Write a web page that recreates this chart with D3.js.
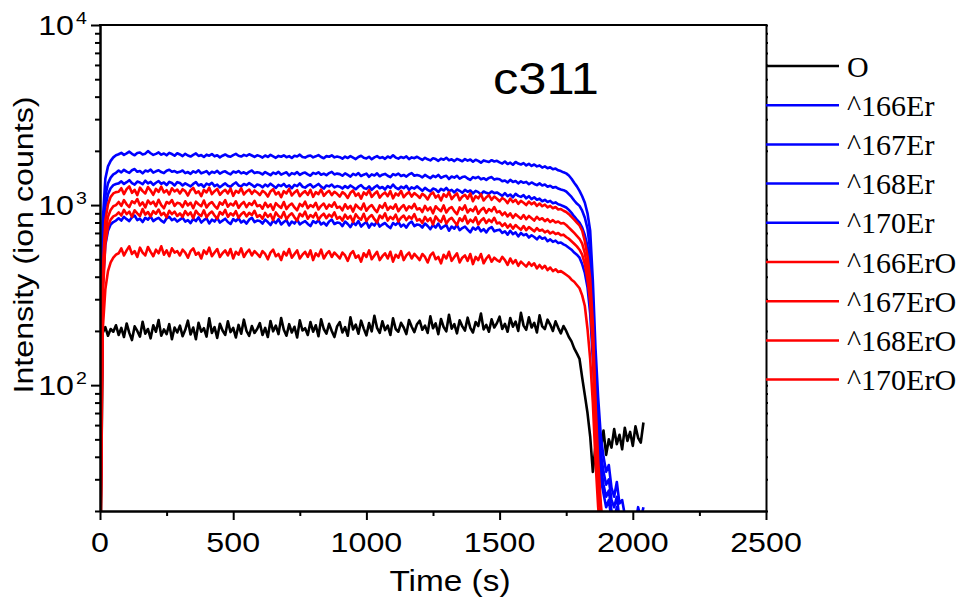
<!DOCTYPE html>
<html><head><meta charset="utf-8">
<script src="https://cdn.jsdelivr.net/npm/d3@7"></script>
<style>body{margin:0;background:#fff}svg{display:block}</style>
</head><body>
<svg id="chart" width="966" height="603"></svg>
<script>
// sample times (s)
const time = [0,10,20,30,40,50,60,70,80,90,100,110,120,130,140,150,160,170,180,190,
200,210,220,230,240,250,260,270,280,290,300,310,320,330,340,350,360,370,380,390,
400,410,420,430,440,450,460,470,480,490,500,510,520,530,540,550,560,570,580,590,
600,610,620,630,640,650,660,670,680,690,700,710,720,730,740,750,760,770,780,790,
800,810,820,830,840,850,860,870,880,890,900,910,920,930,940,950,960,970,980,990,
1000,1010,1020,1030,1040,1050,1060,1070,1080,1090,1100,1110,1120,1130,1140,1150,1160,1170,1180,1190,
1200,1210,1220,1230,1240,1250,1260,1270,1280,1290,1300,1310,1320,1330,1340,1350,1360,1370,1380,1390,
1400,1410,1420,1430,1440,1450,1460,1470,1480,1490,1500,1510,1520,1530,1540,1550,1560,1570,1580,1590,
1600,1610,1620,1630,1640,1650,1660,1670,1680,1690,1700,1710,1720,1730,1740,1750,1760,1770,1780,1790,
1800,1810,1820,1830,1840,1850,1860,1870,1880,1890,1900,1910,1920,1930,1940,1950,1960,1970,1980,1990,
2000,2010,2020,2030,2040];

const O = [5,195,210,188,205,198,215,
190,208,185,220,195,178,212,200,186,225,193,205,182,215,198,230,188,204,192,218,180,209,196,
214,187,203,228,191,209,180,222,198,207,186,235,195,210,183,219,201,190,226,197,208,184,216,193,231,200,188,213,195,205,
221,190,208,185,227,199,214,192,236,203,188,218,196,211,184,229,201,207,190,224,198,215,187,232,205,193,219,200,185,212,
224,196,210,188,238,204,217,193,228,206,189,221,199,243,208,195,226,202,214,190,235,205,198,222,209,192,230,211,197,218,
228,203,214,195,241,207,220,192,233,210,199,246,206,218,194,229,212,201,237,208,196,224,213,250,204,216,198,232,209,221,
240,205,219,198,236,211,225,200,252,214,203,238,209,222,196,244,212,205,231,217,200,226,208,194,213,200,
185,175,160,150,140,110,88,70,52,33,46,52,44,56,41,50,45,57,47,53,44,58,49,55,46,59,51,48,62];

const Er166 = [12,800,1400,1640,1760,1840,1890,
1915,1950,1900,1935,1980,1925,1890,1945,1960,1910,1930,1995,1940,1900,1925,1960,1905,1935,1890,1950,1920,1880,1940,
1910,1870,1925,1885,1860,1900,1935,1875,1895,1850,1905,1880,1920,1865,1890,1840,1880,1910,1870,1855,1895,1925,1880,1860,1900,1875,1915,1885,1850,1890,
1870,1835,1885,1850,1900,1865,1830,1875,1855,1890,1845,1870,1825,1880,1860,1905,1850,1835,1870,1885,1840,1865,1895,1850,1820,1870,1855,1890,1840,1860,
1845,1810,1860,1825,1870,1835,1800,1850,1880,1830,1815,1855,1795,1840,1870,1825,1845,1805,1860,1830,1890,1835,1810,1850,1825,1865,1800,1840,1820,1855,
1815,1780,1830,1795,1770,1820,1800,1760,1810,1785,1830,1775,1795,1755,1805,1780,1750,1800,1765,1790,1740,1785,1760,1720,1770,1750,1735,1775,1745,1760,
1725,1700,1745,1690,1720,1675,1735,1700,1680,1710,1660,1695,1650,1680,1640,1660,1615,1640,1600,1620,1580,1595,1560,1545,1520,1500,
1460,1400,1330,1270,1200,1120,1030,900,720,380,160,85,52,40,33,36,27,24,29,22,23,19,17,15,16,17,21,18,21];

const Er167 = [10,560,970,1150,1240,1290,1310,
1320,1355,1310,1340,1375,1325,1300,1350,1335,1305,1365,1320,1345,1295,1330,1360,1310,1335,1290,1345,1325,1285,1340,
1325,1285,1320,1295,1270,1310,1340,1285,1305,1260,1315,1295,1330,1275,1300,1255,1290,1320,1280,1265,1305,1335,1285,1270,1310,1290,1325,1295,1260,1300,
1290,1255,1300,1270,1315,1280,1245,1295,1275,1310,1260,1285,1240,1295,1275,1320,1265,1250,1285,1305,1255,1280,1310,1265,1235,1285,1270,1300,1255,1275,
1265,1235,1275,1245,1285,1255,1225,1265,1290,1245,1230,1270,1215,1255,1285,1240,1260,1220,1275,1245,1300,1250,1225,1265,1240,1280,1215,1255,1235,1270,
1235,1200,1245,1215,1190,1235,1220,1180,1230,1205,1245,1195,1215,1175,1220,1200,1170,1215,1185,1205,1160,1200,1180,1145,1190,1170,1155,1190,1165,1175,
1150,1125,1165,1120,1145,1105,1155,1125,1110,1135,1090,1120,1080,1105,1070,1085,1050,1070,1040,1055,1025,1035,1010,1000,985,970,
940,905,865,830,800,750,680,590,440,220,95,52,36,28,24,26,20,18,21,15,16,13,12,11,12,13,14,12,13];

const Er168 = [11,640,1120,1320,1420,1480,1510,
1555,1520,1570,1535,1510,1560,1585,1530,1545,1500,1555,1535,1575,1515,1540,1560,1525,1505,1550,1570,1530,1545,1515,
1530,1555,1505,1525,1490,1540,1515,1560,1500,1520,1545,1485,1530,1510,1550,1495,1525,1540,1505,1480,1535,1515,1545,1500,1520,1490,1530,1555,1505,1520,
1510,1480,1525,1495,1465,1515,1490,1530,1475,1500,1520,1460,1505,1485,1525,1470,1500,1515,1480,1455,1510,1490,1520,1475,1495,1465,1505,1530,1480,1495,
1485,1455,1500,1470,1440,1490,1465,1505,1450,1475,1495,1435,1480,1460,1500,1445,1475,1490,1455,1430,1485,1465,1495,1450,1470,1440,1480,1505,1455,1470,
1455,1425,1470,1440,1410,1455,1430,1470,1415,1440,1455,1395,1440,1420,1455,1400,1430,1440,1405,1380,1430,1410,1435,1390,1410,1380,1415,1430,1385,1400,
1390,1355,1370,1335,1380,1345,1360,1320,1355,1330,1345,1305,1335,1310,1290,1320,1285,1300,1265,1280,1250,1260,1235,1220,1210,1190,
1150,1110,1060,1020,990,930,850,740,560,280,120,65,42,33,28,30,23,21,24,18,19,16,14,13,14,15,16,14,15];

const Er170 = [9,350,600,720,780,805,820,
845,820,860,835,815,855,875,825,840,805,850,830,865,815,835,850,820,800,845,860,825,840,810,
830,850,810,825,795,840,815,855,800,825,845,790,830,810,850,800,820,840,805,785,835,815,845,800,820,790,830,850,805,820,
815,790,830,805,775,820,795,835,780,805,825,770,810,790,830,780,800,815,785,765,815,795,825,780,800,770,810,830,785,800,
795,765,810,785,755,800,775,815,760,785,805,750,790,770,810,760,780,795,765,745,795,775,805,760,780,750,790,810,765,780,
775,750,790,765,735,775,750,790,740,760,775,720,760,740,775,725,745,760,730,705,750,730,755,715,735,705,740,755,715,725,
730,700,715,685,720,690,705,670,700,680,690,660,680,665,645,670,650,660,630,645,625,635,615,620,605,595,
580,565,545,530,510,470,420,350,250,140,70,42,30,25,21,23,18,16,19,14,15,12,11,10,11,12,13,11,12];

const ErO166 = [8,420,820,1010,1110,1160,1180,
1185,1240,1150,1225,1270,1170,1215,1135,1250,1195,1160,1260,1205,1140,1230,1185,1265,1175,1210,1145,1240,1190,1220,
1160,1225,1195,1130,1210,1245,1165,1190,1120,1215,1175,1250,1150,1195,1230,1140,1185,1215,1160,1235,1125,1200,1170,1240,1145,1190,1220,1155,1205,1175,
1135,1200,1170,1115,1190,1225,1145,1180,1105,1195,1160,1230,1130,1175,1210,1120,1165,1195,1140,1215,1110,1180,1150,1220,1125,1170,1200,1135,1185,1155,
1115,1180,1150,1095,1170,1205,1125,1160,1085,1175,1140,1210,1110,1155,1190,1100,1145,1175,1120,1195,1090,1160,1130,1200,1105,1150,1180,1115,1165,1135,
1095,1155,1125,1075,1145,1175,1100,1135,1060,1150,1110,1180,1080,1125,1160,1065,1115,1140,1085,1160,1050,1120,1090,1150,1060,1105,1135,1070,1115,1085,
1050,1095,1070,1025,1085,1040,1070,1015,1055,1030,1000,1045,1010,1035,990,1020,985,1005,970,990,960,975,945,950,930,915,
890,860,830,800,770,720,630,520,390,220,80,38,22,15,10];

const ErO167 = [7,300,610,760,830,865,880,
910,875,940,890,920,860,935,900,870,950,885,915,865,925,895,945,880,905,855,930,890,920,870,
900,860,925,880,910,845,930,890,870,935,855,895,920,875,840,915,885,940,860,900,875,925,850,890,915,865,905,880,930,860,
880,840,905,860,890,825,910,870,850,915,835,875,900,855,820,895,865,920,840,880,855,905,830,870,895,845,885,860,910,840,
860,820,885,840,870,805,890,850,830,895,815,855,880,835,800,875,845,900,820,860,835,885,810,850,875,825,865,840,890,820,
835,795,860,815,845,780,865,825,805,870,790,830,850,810,775,845,815,870,790,830,805,855,780,820,845,795,830,805,850,790,
800,765,790,750,780,740,775,750,730,765,725,755,735,715,745,720,730,705,720,695,710,690,700,680,685,665,
650,630,610,590,565,530,470,385,290,160,60,28,17,12,8];

const ErO168 = [8,360,700,860,940,985,1000,
1040,990,1065,1010,975,1050,1025,1080,995,1035,970,1060,1015,1045,985,1070,1000,960,1040,1020,1065,990,1030,
1020,975,1050,995,1030,960,1045,1010,985,1060,970,1015,1040,990,955,1035,1005,1065,980,1020,995,1050,965,1010,1040,975,1025,1000,1055,985,
1000,955,1030,975,1010,940,1025,990,965,1040,950,995,1020,970,935,1015,985,1045,960,1000,975,1030,945,990,1020,955,1005,980,1035,965,
980,935,1010,955,990,920,1005,970,945,1020,930,975,1000,950,915,995,965,1025,940,980,955,1010,925,970,1000,935,985,960,1015,945,
960,915,990,935,970,900,985,950,925,995,910,955,975,925,890,970,940,995,910,950,925,980,895,940,965,905,950,925,975,910,
925,880,910,865,900,850,890,865,840,880,835,870,845,820,860,830,845,815,835,805,825,800,810,790,795,775,
750,725,700,675,650,610,540,440,330,185,68,32,19,13,9];

const ErO170 = [6,200,340,430,480,510,530,
540,575,525,560,590,535,555,515,580,545,525,585,550,520,565,540,590,530,560,520,575,545,555,
525,565,545,510,555,575,530,545,505,560,535,580,520,545,570,515,540,560,525,570,505,550,530,575,515,545,565,525,555,535,
515,555,535,500,545,565,520,535,495,550,525,570,510,535,560,505,530,550,515,560,495,540,520,565,505,535,555,515,545,525,
505,545,525,490,535,555,510,525,485,540,515,560,500,525,550,495,520,540,505,550,485,530,510,555,495,525,545,505,535,515,
495,535,515,480,525,545,500,515,475,530,505,550,490,515,540,480,510,525,490,535,470,515,495,535,475,505,525,485,510,495,
485,515,495,465,505,475,495,460,485,470,455,480,460,475,445,465,445,460,435,450,430,440,425,430,420,410,
400,385,375,360,345,315,275,205,140,80,38,21,14,10,7];

const seriesNames = ["O","^166Er","^167Er","^168Er","^170Er","^166ErO","^167ErO","^168ErO","^170ErO"];
const seriesValues = [O, Er166, Er167, Er168, Er170, ErO166, ErO167, ErO168, ErO170];
const seriesColors = ["#000000","#0000ff","#0000ff","#0000ff","#0000ff","#ff0000","#ff0000","#ff0000","#ff0000"];

const xMajorTicks = [0,500,1000,1500,2000,2500];
const xMinorTicks = [250,750,1250,1750,2250];
const yMajorTicks = [100,1000,10000];
const yMajorExponents = ["2","3","4"];
const yMinorTicks = [20,30,40,50,60,70,80,90,200,300,400,500,600,700,800,900,2000,3000,4000,5000,6000,7000,8000,9000];
const xTitle = "Time (s)";
const yTitle = "Intensity (ion counts)";
const chartTitle = "c311";

const L = 100, R = 766, T = 25, B = 511;
const SANS = "Arial, 'Liberation Sans', sans-serif";
const SERIF = "'Times New Roman', 'Liberation Serif', serif";
const STRETCH = 1.15;

const svg = d3.select("#chart");
const x = d3.scaleLinear().domain([0,2500]).range([L,R]);
const y = d3.scaleLog().domain([20,10000]).range([B,T]);

svg.append("defs").append("clipPath").attr("id","clip")
  .append("rect").attr("x",L).attr("y",T).attr("width",R-L).attr("height",B-T);

// series
const line = d3.line().x(d=>x(d[0])).y(d=>y(Math.max(d[1],1)));
const plot = svg.append("g").attr("clip-path","url(#clip)");
seriesValues.forEach((vals,k)=>{
  const pts = vals.map((v,i)=>[time[i],v]);
  plot.append("path").datum(pts).attr("d",line)
    .attr("fill","none").attr("stroke",seriesColors[k])
    .attr("stroke-width",2.6).attr("stroke-linejoin","round");
});

function styleAxis(g){
  g.selectAll(".domain").attr("stroke","#000").attr("stroke-width",2);
  g.selectAll(".tick line").attr("stroke","#000").attr("stroke-width",2);
  g.selectAll(".tick text").remove();
}
// bottom
svg.append("g").attr("transform",`translate(0,${B})`)
  .call(d3.axisBottom(x).tickValues(xMajorTicks).tickSize(9).tickSizeOuter(0)).call(styleAxis);
svg.append("g").attr("transform",`translate(0,${B})`)
  .call(d3.axisBottom(x).tickValues(xMinorTicks).tickSize(5).tickSizeOuter(0)).call(styleAxis);
// left
svg.append("g").attr("transform",`translate(${L},0)`)
  .call(d3.axisLeft(y).tickValues(yMajorTicks).tickSize(9).tickSizeOuter(0)).call(styleAxis);
svg.append("g").attr("transform",`translate(${L},0)`)
  .call(d3.axisLeft(y).tickValues(yMinorTicks).tickSize(5).tickSizeOuter(0)).call(styleAxis);
// right
svg.append("g").attr("transform",`translate(${R},0)`)
  .call(d3.axisRight(y).tickValues(yMajorTicks.concat(yMinorTicks)).tickSize(2).tickSizeOuter(0)).call(styleAxis);
// top
svg.append("line").attr("x1",L-1).attr("x2",R+1).attr("y1",T).attr("y2",T)
  .attr("stroke","#000").attr("stroke-width",2);

function stext(px,py,str,size,anchor,rot){
  return svg.append("text")
    .attr("transform",`translate(${px},${py})`+(rot?` rotate(${rot})`:"")+` scale(${STRETCH},1)`)
    .attr("text-anchor",anchor).attr("font-family",SANS).attr("font-size",size)
    .attr("fill","#000").text(str);
}
// x tick labels
xMajorTicks.forEach(v=>stext(x(v),552,String(v),28,"middle"));
// y tick labels
yMajorTicks.forEach((v,i)=>{
  stext(74,y(v)+10,"10",28,"end");
  stext(76,y(v)-1,yMajorExponents[i],17,"start");
});
// titles
stext((L+R)/2+17,591,xTitle,29,"middle");
stext(33,245,yTitle,28,"middle",-90);
stext(493,94,chartTitle,44,"start");

// legend
const legY0 = 66, legStep = 39.2;
seriesNames.forEach((name,k)=>{
  const yy = legY0 + k*legStep;
  svg.append("line").attr("x1",R).attr("x2",839).attr("y1",yy).attr("y2",yy)
    .attr("stroke",seriesColors[k]).attr("stroke-width",2.5);
  svg.append("text").attr("x",847).attr("y",yy+10.5)
    .attr("font-family",SERIF).attr("font-size",30).attr("fill","#000").text(name);
});
</script>
</body></html>
